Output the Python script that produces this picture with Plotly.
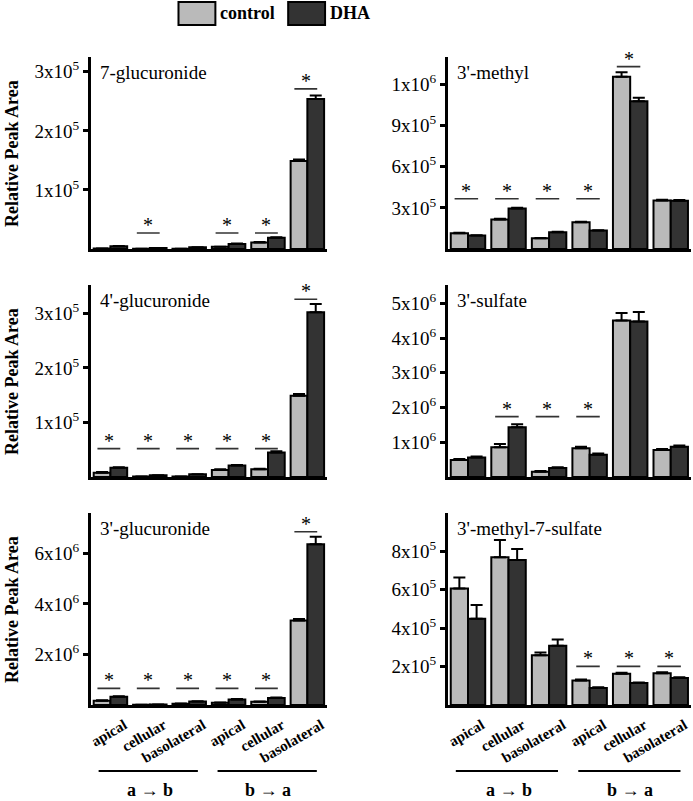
import plotly.graph_objects as go

# ---------------- data ----------------
categories = ["apical", "cellular", "basolateral", "apical", "cellular", "basolateral"]
directions = ["a \u2192 b", "b \u2192 a"]
series_names = ["control", "DHA"]

panel_titles = ["7-glucuronide", "3'-methyl", "4'-glucuronide", "3'-sulfate",
                "3'-glucuronide", "3'-methyl-7-sulfate"]

glu7_ctrl = [1.0e3, 0.5e3, 0.5e3, 4.0e3, 11e3, 1.49e5]
glu7_dha = [4.5e3, 1.5e3, 3.0e3, 8.5e3, 19e3, 2.54e5]
glu7_ctrl_err = [0, 0, 0, 0, 1e3, 2.5e3]
glu7_dha_err = [0.5e3, 0, 0, 1e3, 1e3, 6e3]
glu7_sig = [None, 0.27e5, None, 0.27e5, 0.27e5, 2.71e5]
glu7_ticks = [1e5, 2e5, 3e5]
glu7_ticktext = ["1x10<sup>5</sup>", "2x10<sup>5</sup>", "3x10<sup>5</sup>"]

methyl_ctrl = [1.15e5, 2.15e5, 0.78e5, 1.95e5, 12.56e5, 3.54e5]
methyl_dha = [0.98e5, 2.95e5, 1.22e5, 1.34e5, 10.78e5, 3.52e5]
methyl_ctrl_err = [0.03e5, 0.05e5, 0.03e5, 0.04e5, 0.32e5, 0.05e5]
methyl_dha_err = [0.03e5, 0.05e5, 0.03e5, 0.03e5, 0.24e5, 0.05e5]
methyl_sig = [3.66e5, 3.66e5, 3.66e5, 3.66e5, 13.3e5, None]
methyl_ticks = [3e5, 6e5, 9e5, 1.2e6]
methyl_ticktext = ["3x10<sup>5</sup>", "6x10<sup>5</sup>", "9x10<sup>5</sup>", "1x10<sup>6</sup>"]

glu4_ctrl = [0.08e5, 0.01e5, 0.01e5, 0.13e5, 0.14e5, 1.49e5]
glu4_dha = [0.17e5, 0.03e5, 0.05e5, 0.21e5, 0.45e5, 3.02e5]
glu4_ctrl_err = [0.01e5, 0, 0, 0.01e5, 0.01e5, 0.03e5]
glu4_dha_err = [0.01e5, 0, 0, 0.01e5, 0.02e5, 0.15e5]
glu4_sig = [0.52e5, 0.52e5, 0.52e5, 0.52e5, 0.52e5, 3.26e5]
glu4_ticks = [1e5, 2e5, 3e5]
glu4_ticktext = ["1x10<sup>5</sup>", "2x10<sup>5</sup>", "3x10<sup>5</sup>"]

sulf_ctrl = [0.49e6, 0.86e6, 0.15e6, 0.83e6, 4.51e6, 0.78e6]
sulf_dha = [0.56e6, 1.43e6, 0.26e6, 0.64e6, 4.48e6, 0.87e6]
sulf_ctrl_err = [0.03e6, 0.09e6, 0.02e6, 0.04e6, 0.21e6, 0.03e6]
sulf_dha_err = [0.03e6, 0.09e6, 0.02e6, 0.04e6, 0.27e6, 0.04e6]
sulf_sig = [None, 1.74e6, 1.74e6, 1.74e6, None, None]
sulf_ticks = [1e6, 2e6, 3e6, 4e6, 5e6]
sulf_ticktext = ["1x10<sup>6</sup>", "2x10<sup>6</sup>", "3x10<sup>6</sup>",
                 "4x10<sup>6</sup>", "5x10<sup>6</sup>"]

glu3_ctrl = [0.17e6, 0.01e6, 0.05e6, 0.09e6, 0.13e6, 3.34e6]
glu3_dha = [0.33e6, 0.02e6, 0.14e6, 0.22e6, 0.28e6, 6.36e6]
glu3_ctrl_err = [0.02e6, 0, 0.01e6, 0.01e6, 0.01e6, 0.06e6]
glu3_dha_err = [0.02e6, 0, 0.01e6, 0.02e6, 0.02e6, 0.30e6]
glu3_sig = [0.66e6, 0.66e6, 0.66e6, 0.66e6, 0.66e6, 6.86e6]
glu3_ticks = [2e6, 4e6, 6e6]
glu3_ticktext = ["2x10<sup>6</sup>", "4x10<sup>6</sup>", "6x10<sup>6</sup>"]

ms_ctrl = [6.07e5, 7.69e5, 2.59e5, 1.28e5, 1.63e5, 1.66e5]
ms_dha = [4.49e5, 7.55e5, 3.09e5, 0.89e5, 1.14e5, 1.40e5]
ms_ctrl_err = [0.57e5, 0.91e5, 0.15e5, 0.05e5, 0.05e5, 0.05e5]
ms_dha_err = [0.72e5, 0.58e5, 0.32e5, 0.03e5, 0.03e5, 0.04e5]
ms_sig = [None, None, None, 2.01e5, 2.01e5, 2.01e5]
ms_ticks = [2e5, 4e5, 6e5, 8e5]
ms_ticktext = ["2x10<sup>5</sup>", "4x10<sup>5</sup>", "6x10<sup>5</sup>", "8x10<sup>5</sup>"]

y_ranges = [3.25e5, 1.40e6, 3.52e5, 5.53e6, 7.6e6, 1.0e6]

panels = [
    (glu7_ctrl, glu7_dha, glu7_ctrl_err, glu7_dha_err, glu7_sig, glu7_ticks, glu7_ticktext),
    (methyl_ctrl, methyl_dha, methyl_ctrl_err, methyl_dha_err, methyl_sig, methyl_ticks, methyl_ticktext),
    (glu4_ctrl, glu4_dha, glu4_ctrl_err, glu4_dha_err, glu4_sig, glu4_ticks, glu4_ticktext),
    (sulf_ctrl, sulf_dha, sulf_ctrl_err, sulf_dha_err, sulf_sig, sulf_ticks, sulf_ticktext),
    (glu3_ctrl, glu3_dha, glu3_ctrl_err, glu3_dha_err, glu3_sig, glu3_ticks, glu3_ticktext),
    (ms_ctrl, ms_dha, ms_ctrl_err, ms_dha_err, ms_sig, ms_ticks, ms_ticktext),
]

# ---------------- styling / layout ----------------
W, H = 693, 801
SERIF = "Liberation Serif, Times New Roman, Times, DejaVu Serif, serif"
CTRL_COLOR = "#bababa"
DHA_COLOR = "#333333"

col_px = [(89, 326), (447, 691)]
row_px = [(57, 249), (285, 477), (513, 705)]

def xdom(c):
    a, b = col_px[c]
    return [a / W, b / W]

def ydom(r):
    top, bot = row_px[r]
    return [1 - bot / H, 1 - top / H]

fig = go.Figure()
shapes = []
annotations = []
xpos = list(range(len(categories)))

for idx, (ctrl, dha, cerr, derr, sig, tv, tt) in enumerate(panels):
    r, c = divmod(idx, 2)
    n = idx + 1
    xa = "x" if n == 1 else f"x{n}"
    ya = "y" if n == 1 else f"y{n}"
    for vals, errs, name, color in [(ctrl, cerr, series_names[0], CTRL_COLOR),
                                    (dha, derr, series_names[1], DHA_COLOR)]:
        fig.add_trace(go.Bar(
            x=xpos, y=vals, name=name, xaxis=xa, yaxis=ya, showlegend=False,
            marker=dict(color=color, line=dict(color="black", width=2)),
            error_y=dict(type="data", array=errs, symmetric=False,
                         arrayminus=[0] * len(errs), color="black",
                         thickness=2, width=6),
        ))
    bottom = (r == 2)
    fig.update_layout(**{
        ("xaxis" if n == 1 else f"xaxis{n}"): dict(
            domain=xdom(c), anchor=ya, range=[-0.5, 5.5],
            showline=True, linecolor="black", linewidth=2.5,
            showgrid=False, zeroline=False, ticks="",
            tickvals=xpos if bottom else [], ticktext=categories if bottom else [],
            tickangle=-30, ticklabelshift=14, ticklabelstandoff=3,
            tickfont=dict(family=SERIF, size=15, color="black", weight="bold"),
        ),
        ("yaxis" if n == 1 else f"yaxis{n}"): dict(
            domain=ydom(r), anchor=xa, range=[0, y_ranges[idx]],
            showline=True, linecolor="black", linewidth=2.5,
            showgrid=False, zeroline=False,
            ticks="outside", ticklen=5, tickwidth=2.5, tickcolor="black",
            tickvals=tv, ticktext=tt,
            tickfont=dict(family=SERIF, size=19, color="black"),
        ),
    })
    # panel title
    annotations.append(dict(
        text=panel_titles[idx], xref=f"{xa} domain", yref=f"{ya} domain",
        x=0.03, y=0.985, xanchor="left", yanchor="top", showarrow=False,
        font=dict(family=SERIF, size=19, color="black"),
    ))
    # significance markers
    for i, s in enumerate(sig):
        if s is None:
            continue
        shapes.append(dict(type="line", xref=xa, yref=ya, x0=i - 0.33, x1=i + 0.25,
                           y0=s, y1=s, line=dict(color="#333333", width=1.6)))
        annotations.append(dict(
            text="*", xref=xa, yref=ya, x=i - 0.04, y=s, xanchor="center",
            yanchor="bottom", yshift=-5, showarrow=False,
            font=dict(family=SERIF, size=20, color="black"),
        ))
    # y-axis titles on left column
    if c == 0:
        annotations.append(dict(
            text="<b>Relative Peak Area</b>", xref="paper", yref=f"{ya} domain",
            x=10 / W, y=0.5, xanchor="center", yanchor="middle", textangle=-90,
            showarrow=False, font=dict(family=SERIF, size=18, color="black"),
        ))
    # direction brackets under bottom panels
    if bottom:
        for k, (a0, a1) in enumerate([(-0.3, 2.22), (2.72, 5.24)]):
            shapes.append(dict(type="line", xref=xa, yref="paper", x0=a0, x1=a1,
                               y0=1 - 771 / H, y1=1 - 771 / H,
                               line=dict(color="black", width=2)))
            annotations.append(dict(
                text=f"<b>{directions[k]}</b>", xref=xa, yref="paper",
                x=1 + 3 * k, y=1 - 790 / H, xanchor="center", yanchor="middle",
                showarrow=False, font=dict(family=SERIF, size=18, color="black"),
            ))

# custom legend
legend_items = [(series_names[0], CTRL_COLOR, 177, 214), (series_names[1], DHA_COLOR, 287, 324)]
for name, color, x0, x1 in legend_items:
    shapes.append(dict(type="rect", xref="paper", yref="paper",
                       x0=x0 / W, x1=x1 / W, y0=1 - 25 / H, y1=1 - 2 / H,
                       fillcolor=color, line=dict(color="black", width=2)))
    annotations.append(dict(
        text=f"<b>{name}</b>", xref="paper", yref="paper", x=(x1 + 3) / W,
        y=1 - 13 / H, xanchor="left", yanchor="middle", showarrow=False,
        font=dict(family=SERIF, size=18, color="black"),
    ))

fig.update_layout(
    width=W, height=H, margin=dict(l=0, r=0, t=0, b=0),
    paper_bgcolor="white", plot_bgcolor="white",
    barmode="group", bargap=0.15, bargroupgap=0,
    shapes=shapes, annotations=annotations, showlegend=False,
)

fig.write_html(
    "out.html",
    config={"displayModeBar": False},
    post_script="document.body.style.margin='0';document.body.style.overflow='hidden';",
)
